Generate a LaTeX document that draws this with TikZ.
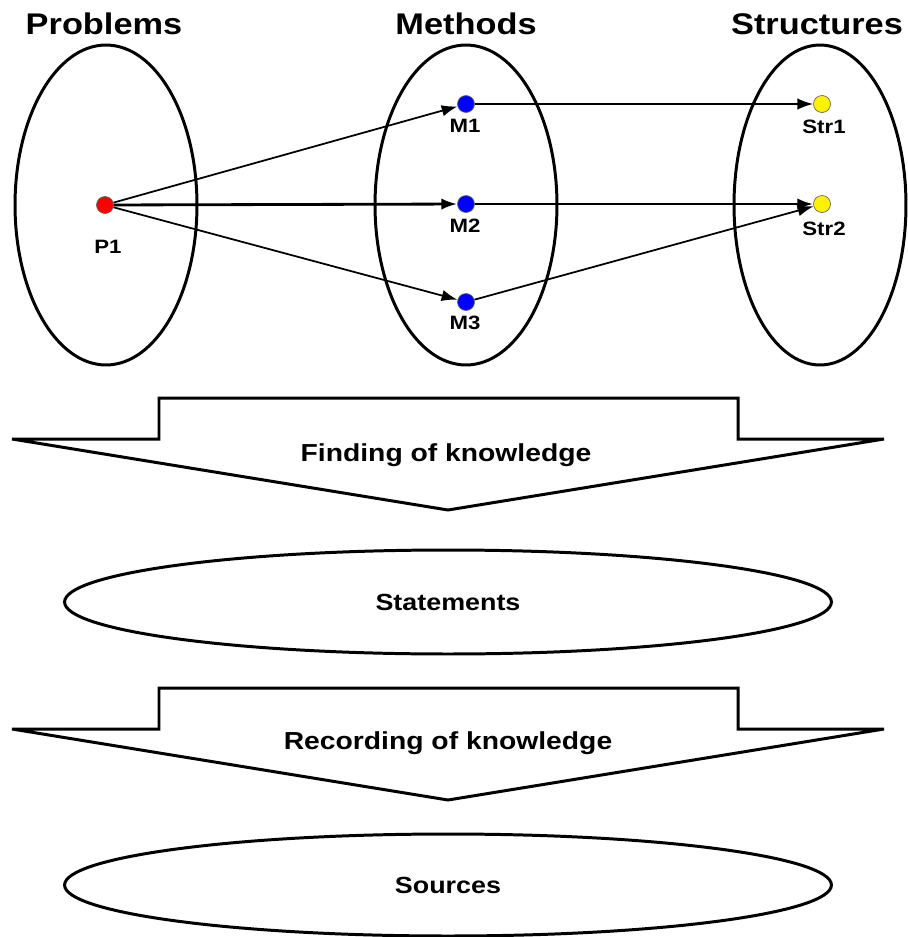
\documentclass[tikz,border=0pt]{standalone}
\usepackage{fontspec}
\setmainfont[FakeStretch=1.15]{Liberation Sans}
\usetikzlibrary{arrows.meta, shapes.geometric}
\tikzset{
  set/.style={draw, ellipse, line width=1.7pt, inner sep=0pt},
  dot/.style={circle, draw=black!60, line width=0.4pt, minimum size=0.34cm, inner sep=0pt},
  title/.style={font=\bfseries\fontsize{17}{20}\selectfont},
  lbl/.style={font=\bfseries\fontsize{11}{13}\selectfont},
  step label/.style={font=\bfseries\fontsize{14}{17}\selectfont},
  set label/.style={font=\bfseries\fontsize{13.3}{16}\selectfont},
  link/.style={-{Latex[length=9pt,width=6.5pt]}, line width=1pt},
  biglink/.style={-{Latex[length=9pt,width=6.5pt]}, line width=1.6pt},
  bigarrow/.style={draw, line width=1.7pt, line join=miter},
}
\begin{document}
\begin{tikzpicture}[x=0.02cm, y=-0.02cm]
    \useasboundingbox (0, 0) rectangle (908, 937);
    % titles
    \node[title] (tprob) at (104, 24) {Problems};
    \node[title] (tmeth) at (466, 24) {Methods};
    \node[title] (tstr) at (817, 24) {Structures};
    % sets
    \node[set, minimum width=3.64cm, minimum height=6.4cm] (sprob) at (106, 205) {};
    \node[set, minimum width=3.64cm, minimum height=6.4cm] (smeth) at (466, 205) {};
    \node[set, minimum width=3.44cm, minimum height=6.4cm] (sstr) at (820, 205) {};
    % elements
    \node[dot, fill=red] (p1) at (105, 205) {};
    \node[dot, fill=blue] (m1) at (466, 104) {};
    \node[dot, fill=blue] (m2) at (466, 204) {};
    \node[dot, fill=blue] (m3) at (466, 302) {};
    \node[dot, fill=yellow] (s1) at (822, 104) {};
    \node[dot, fill=yellow] (s2) at (822, 204) {};
    \node[lbl] at (108, 247) {P1};
    \node[lbl] at (465, 126) {M1};
    \node[lbl] at (465, 226) {M2};
    \node[lbl] at (465, 323) {M3};
    \node[lbl] at (824, 127) {Str1};
    \node[lbl] at (824, 229) {Str2};
    % links
    \draw[link] (p1) -- (m1);
    \draw[biglink] (p1) -- (m2);
    \draw[link] (p1) -- (m3);
    \draw[link] (m1) -- (s1);
    \draw[biglink] (m2) -- (s2);
    \draw[link] (m3) -- (s2);
    % finding
    \draw[bigarrow] (159, 439) -- (159, 398) -- (738, 398) -- (738, 439) -- (884, 439) -- (448, 510) -- (12, 439) -- cycle;
    \node[step label] (find) at (446, 455) {Finding of knowledge};
    \node[set, minimum width=15.34cm, minimum height=2.08cm, set label] (stat) at (448, 602) {Statements};
    % recording
    \draw[bigarrow] (159, 729) -- (159, 688) -- (738, 688) -- (738, 729) -- (884, 729) -- (448, 800) -- (12, 729) -- cycle;
    \node[step label] (rec) at (448, 743) {Recording of knowledge};
    \node[set, minimum width=15.34cm, minimum height=2.04cm, set label] (src) at (448, 885) {Sources};
\end{tikzpicture}
\end{document}
